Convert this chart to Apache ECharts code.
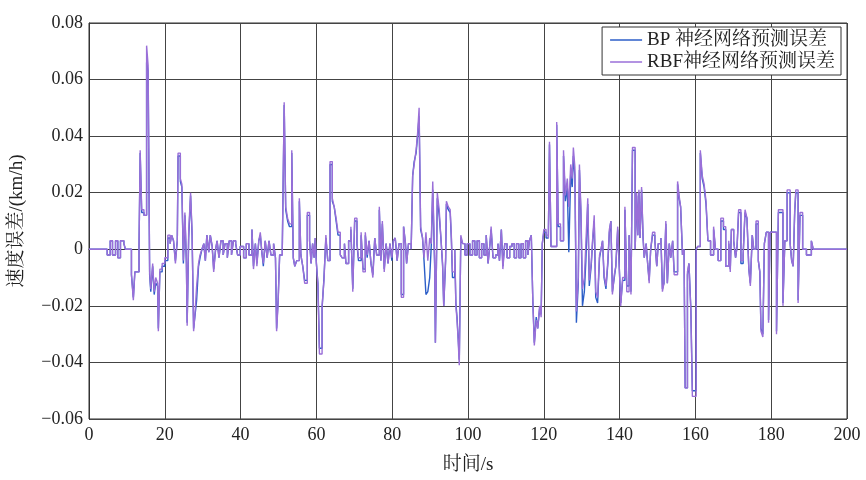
<!DOCTYPE html>
<html>
<head>
<meta charset="utf-8">
<script src="https://cdn.jsdelivr.net/npm/echarts@6/dist/echarts.min.js"></script>
<style>
html,body{margin:0;padding:0;background:#fff;}
#chart{width:866px;height:480px;}
</style>
</head>
<body>
<div id="chart"></div>
<script>
const seriesNames = ['BP 神经网络预测误差', 'RBF神经网络预测误差'];
const xTicks = [0, 20, 40, 60, 80, 100, 120, 140, 160, 180, 200];
const yTicks = [-0.06, -0.04, -0.02, 0, 0.02, 0.04, 0.06, 0.08];

const times = [
0,4.8,5.6,6.2,7.0,7.6,8.3,9.2,9.6,11.2,
11.7,12.1,13.2,13.5,13.9,14.5,15.2,15.6,16.0,16.3,
16.8,17.2,17.6,18.1,18.3,18.7,19.3,20.0,20.8,21.4,
21.8,22.3,22.8,23.3,23.5,24.1,24.5,24.9,25.3,25.7,
25.9,26.3,26.8,27.2,27.6,28.0,28.4,28.9,29.3,29.8,
30.3,30.7,31.1,31.6,32.0,32.5,32.9,33.4,33.8,34.3,
34.8,35.4,35.9,36.5,37.0,37.6,38.1,38.7,39.2,39.9,
40.8,41.5,42.2,43.0,43.4,43.9,44.3,44.8,45.2,45.6,
46.0,46.5,47.0,47.5,48.0,48.7,49.2,49.5,49.9,50.3,
51.0,51.5,51.9,52.4,52.9,53.5,53.9,54.3,54.8,55.5,
55.9,56.4,56.9,57.6,58.2,58.6,59.0,59.4,59.7,60.0,
60.4,60.8,61.5,62.0,62.5,63.0,63.6,64.2,64.7,65.2,
65.7,66.3,66.8,67.4,67.8,68.5,69.1,69.6,70.1,70.7,
71.1,71.8,72.3,72.9,73.4,73.9,74.4,74.9,75.4,75.9,
76.6,77.0,77.4,77.9,78.4,78.9,79.4,79.9,80.3,80.8,
81.3,81.8,82.4,83.0,83.5,83.8,84.3,85.0,85.4,85.8,
86.3,86.7,87.1,87.5,88.0,88.4,88.9,89.4,89.9,90.3,
90.7,91.2,91.4,91.9,92.4,92.9,93.3,93.6,94.1,94.3,
94.8,95.3,95.6,95.9,96.5,96.8,97.1,97.4,97.7,98.1,
98.6,99.2,99.8,100.5,101.2,101.8,102.4,103.0,103.6,104.2,
104.8,105.3,105.8,106.1,106.6,107.3,107.9,108.3,108.8,109.2,
109.7,110.3,111.0,111.6,112.2,112.8,113.4,114.0,114.6,115.2,
115.8,116.2,116.7,117.1,117.5,118.0,118.4,118.9,119.3,119.6,
120.0,120.6,121.2,121.5,121.9,123.4,123.8,124.4,125.2,125.7,
126.2,126.6,127.1,127.5,127.8,128.2,128.6,129.1,129.4,129.8,
130.2,130.7,131.1,131.6,132.0,132.5,132.9,133.3,133.7,134.2,
134.7,135.1,135.5,135.9,136.4,136.9,137.3,137.7,138.1,138.6,
139.0,139.5,139.9,140.3,140.8,141.4,141.9,142.5,143.0,143.4,
144.1,144.5,144.8,145.1,145.4,145.8,146.2,146.5,147.0,147.4,
147.8,148.2,148.7,149.3,149.8,150.2,150.9,151.3,151.7,152.2,
152.6,153.1,153.5,154.0,154.4,155.3,155.7,156.1,156.6,157.0,
157.3,157.9,158.3,158.8,159.2,160.2,160.6,161.3,161.8,162.3,
162.8,163.3,164.0,164.8,165.3,166.0,166.7,167.4,168.0,168.8,
169.2,169.5,170.1,170.6,171.0,171.4,172.0,172.6,173.1,173.6,
174.1,174.5,175.0,175.4,176.0,176.6,177.0,177.3,177.8,178.2,
178.7,179.3,179.7,181.4,181.9,183.1,183.6,184.2,185.0,185.4,
185.8,186.2,186.5,187.1,187.6,188.3,189.3,190.6,191.1,200
];

const rbfErr = [
0,-0.002,0.003,-0.002,0.003,-0.003,0.003,0.002,0,-0.009,
-0.018,-0.008,0.001,0.035,0.014,0.012,0.072,0.065,-0.008,-0.014,
-0.005,-0.015,-0.010,-0.012,-0.029,-0.007,-0.005,-0.003,0.005,0.002,
0.005,0.003,-0.005,0.003,0.034,0.025,0.023,-0.004,0.013,-0.004,
-0.027,0.006,0.020,0.006,-0.029,-0.022,-0.013,-0.005,-0.002,0,
0.002,-0.004,0.005,-0.001,0.005,0.001,-0.008,0,0.003,-0.003,
0.003,-0.002,0.002,-0.003,0.003,-0.002,0.003,0.002,-0.002,0.001,
-0.003,0.002,-0.002,0.007,-0.007,0.002,-0.006,0.003,0.006,-0.001,
-0.005,0.003,-0.003,0.003,-0.002,0.002,-0.003,-0.029,-0.019,-0.002,
0,0.052,0.015,0.011,0.009,0.035,-0.003,-0.006,-0.004,0.018,
-0.002,-0.006,-0.012,0.013,0.003,-0.005,0.002,-0.003,0.004,-0.005,
-0.013,-0.037,-0.020,-0.011,0.005,-0.004,0.031,0.018,0.015,0.011,
0.006,-0.002,-0.003,0.002,-0.005,0.003,0.008,-0.015,0.011,0.002,
-0.003,0.006,-0.008,0.006,-0.002,0.003,-0.005,-0.010,0.004,-0.002,
0.015,-0.004,0.010,-0.008,0.002,-0.005,0.002,-0.003,0.003,0.004,
-0.004,0.002,-0.017,0.008,0.002,-0.005,0.002,0,0.026,0.030,
0.035,0.041,0.050,0.008,0.004,-0.003,0.006,-0.004,0.004,0.002,
0.024,-0.004,-0.033,0.020,0.014,0.003,-0.005,-0.020,-0.003,0.017,
0.015,0.014,0.005,-0.008,0,-0.020,-0.025,-0.032,-0.041,0.005,
0.002,-0.002,0.002,-0.002,0.003,-0.002,0.003,-0.003,0.002,-0.002,
0.005,-0.005,0.002,0.008,-0.003,-0.002,0.002,-0.004,0.007,-0.007,
0.002,-0.003,0.001,0.002,-0.003,0.002,-0.003,0.002,-0.003,0.003,
-0.002,0.003,0.005,-0.018,-0.034,-0.025,-0.028,-0.020,-0.024,0.002,
0.007,0.005,0.004,0.038,0.001,0.045,0.009,0.003,0.035,0.019,
0.025,0.015,0.030,0.025,0.036,0.029,-0.022,-0.010,0.030,0.014,
-0.014,-0.010,0.002,0.018,-0.011,-0.005,0.004,0.012,-0.015,-0.017,
-0.002,0,0.003,-0.009,-0.013,-0.004,0.007,0.010,-0.016,-0.009,
-0.006,0.008,-0.006,-0.020,-0.010,0.015,-0.015,0.005,-0.016,0.036,
0,0.020,0.005,0.021,0.004,0.022,0.004,-0.003,0.002,-0.005,
-0.012,0,0.006,0.003,-0.006,0.002,0.004,-0.015,-0.012,0.010,
-0.012,0.002,-0.003,0.003,-0.009,0.024,0.019,0.015,-0.002,0,
-0.049,-0.008,-0.005,-0.022,-0.052,0,0.001,0.035,0.026,0.023,
0.017,0.003,-0.002,0.008,0,-0.004,0.011,0.008,-0.006,0.003,
-0.008,0.007,0.003,-0.003,0.001,0.014,-0.004,-0.002,0.014,0.011,
-0.007,-0.013,0.005,0,0.010,-0.004,-0.008,-0.029,-0.031,0.002,
0.006,-0.026,0.006,-0.030,0.014,-0.020,0.003,0.021,0.002,-0.004,
-0.006,0.014,0.021,-0.019,0.013,0,-0.002,0.003,0,0
];

const bpErr = [
0,-0.002,0.003,-0.002,0.003,-0.003,0.003,0.002,0,-0.009,
-0.017,-0.008,0.001,0.034,0.013,0.012,0.066,0.063,-0.009,-0.015,
-0.006,-0.016,-0.012,-0.013,-0.028,-0.008,-0.006,-0.004,0.004,0.002,
0.005,0.003,-0.004,0.003,0.033,0.024,0.022,-0.005,0.012,-0.005,
-0.026,0.004,0.019,0.005,-0.028,-0.023,-0.018,-0.006,-0.003,0,
0.002,-0.004,0.005,-0.001,0.005,0.001,-0.007,0,0.003,-0.003,
0.003,-0.002,0.002,-0.003,0.003,-0.002,0.003,0.002,-0.002,0.001,
-0.003,0.002,-0.002,0.007,-0.006,0.002,-0.005,0.003,0.005,-0.001,
-0.006,0.003,-0.003,0.003,-0.002,0.002,-0.003,-0.028,-0.018,-0.002,
0,0.051,0.014,0.010,0.008,0.034,-0.003,-0.006,-0.004,0.017,
-0.002,-0.006,-0.011,0.012,0.003,-0.005,0.002,-0.003,0.004,-0.005,
-0.012,-0.035,-0.021,-0.010,0.004,-0.004,0.030,0.017,0.015,0.010,
0.005,-0.002,-0.003,0.002,-0.005,0.003,0.007,-0.014,0.010,0.002,
-0.004,0.005,-0.007,0.005,-0.003,0.003,-0.005,-0.009,0.004,-0.002,
0.014,-0.004,0.009,-0.007,0.002,-0.005,0.002,-0.004,0.003,0.004,
-0.004,0.002,-0.016,0.008,0.002,-0.005,0.002,0,0.026,0.031,
0.034,0.040,0.047,0.007,0.004,-0.004,-0.016,-0.015,-0.010,0.001,
0.021,-0.006,-0.033,0.018,0.012,0.003,-0.006,-0.020,-0.004,0.016,
0.014,0.013,0.004,-0.010,0,-0.019,-0.024,-0.031,-0.039,0.004,
0.002,-0.002,0.002,-0.002,0.003,-0.002,0.003,-0.003,0.002,-0.002,
0.005,-0.005,0.002,0.007,-0.003,-0.002,0.002,-0.004,0.007,-0.006,
0.002,-0.003,0.001,0.002,-0.003,0.002,-0.003,0.002,-0.003,0.003,
-0.002,0.003,0.005,-0.018,-0.033,-0.024,-0.028,-0.021,-0.023,0.002,
0.006,0.004,0.004,0.037,0.001,0.044,0.008,0.003,0.033,0.017,
0.022,-0.001,0.027,0.022,0.033,0.026,-0.026,-0.012,0.028,0.012,
-0.020,-0.015,-0.004,0.016,-0.013,-0.006,0.003,0.010,-0.017,-0.019,
-0.003,0,0.003,-0.010,-0.014,-0.005,0.006,0.010,-0.015,-0.010,
-0.006,0.007,-0.006,-0.019,-0.011,0.014,-0.013,0.005,-0.015,0.035,
0,0.019,0.005,0.020,0.004,0.021,0.004,-0.003,0.002,-0.005,
-0.011,0,0.005,0.003,-0.006,0.002,0.004,-0.014,-0.012,0.009,
-0.012,0.002,-0.003,0.003,-0.008,0.023,0.018,0.015,-0.002,0,
-0.049,-0.009,-0.005,-0.021,-0.050,0,0.001,0.034,0.025,0.022,
0.016,0.003,-0.002,0.007,0,-0.004,0.010,0.007,-0.006,0.002,
-0.007,0.007,0.003,-0.003,0.001,0.013,-0.005,-0.002,0.013,0.011,
-0.007,-0.012,0.005,0,0.009,-0.004,-0.008,-0.028,-0.030,0.002,
0.006,-0.025,0.006,-0.029,0.013,-0.019,0.003,0.020,0.002,-0.004,
-0.006,0.013,0.020,-0.018,0.012,0,-0.002,0.003,0,0
];

const serifFont = "'Liberation Serif','Times New Roman','Noto Serif CJK SC','Noto Sans CJK SC',serif";
const chart = echarts.init(document.getElementById('chart'), null, {renderer: 'canvas'});

function fmtY(v) {
  if (Math.abs(v) < 1e-9) return '0';
  const s = v.toFixed(2);
  return s.replace('-', '\u2212');
}

chart.setOption({
  animation: false,
  backgroundColor: '#ffffff',
  grid: {
    left: 87, right: 19, top: 23, bottom: 53,
    show: true, borderColor: '#333', borderWidth: 1, backgroundColor: 'transparent'
  },
  legend: {
    orient: 'vertical',
    right: 25,
    top: 27,
    align: 'left',
    backgroundColor: '#fff',
    borderColor: '#333',
    borderWidth: 1,
    borderRadius: 0,
    padding: [3, 6, 3, 8],
    itemGap: 2,
    itemWidth: 32,
    itemHeight: 1.5,
    icon: 'rect',
    textStyle: {fontFamily: serifFont, fontSize: 19, color: '#222', lineHeight: 20},
    data: seriesNames
  },
  xAxis: {
    type: 'value',
    min: xTicks[0], max: xTicks[xTicks.length - 1], interval: 20,
    name: '时间/s',
    nameLocation: 'middle',
    nameGap: 37,
    nameTextStyle: {fontFamily: serifFont, fontSize: 19, color: '#222'},
    axisLine: {show: true, lineStyle: {color: '#333', width: 1}},
    axisTick: {show: false},
    axisLabel: {fontFamily: serifFont, fontSize: 18, color: '#222', margin: 7},
    splitLine: {show: true, lineStyle: {color: '#444', width: 1}}
  },
  yAxis: {
    type: 'value',
    min: yTicks[0], max: yTicks[yTicks.length - 1], interval: 0.02,
    name: '速度误差/(km/h)',
    nameLocation: 'middle',
    nameGap: 62,
    nameTextStyle: {fontFamily: serifFont, fontSize: 19, color: '#222'},
    axisLine: {show: true, lineStyle: {color: '#333', width: 1}},
    axisTick: {show: false},
    axisLabel: {fontFamily: serifFont, fontSize: 18, color: '#222', margin: 6, formatter: fmtY},
    splitLine: {show: true, lineStyle: {color: '#444', width: 1}}
  },
  series: [
    {
      name: seriesNames[0],
      type: 'line',
      step: 'end',
      symbol: 'none',
      data: times.map((t, i) => [t, bpErr[i]]),
      lineStyle: {color: '#2c5ec8', width: 1.4},
      itemStyle: {color: '#2c5ec8'},
      z: 2
    },
    {
      name: seriesNames[1],
      type: 'line',
      step: 'end',
      symbol: 'none',
      data: times.map((t, i) => [t, rbfErr[i]]),
      lineStyle: {color: '#9a6fd8', width: 1.4},
      itemStyle: {color: '#9a6fd8'},
      z: 3
    }
  ]
});
if (times.length !== rbfErr.length || times.length !== bpErr.length) {
  console.error('length mismatch', times.length, rbfErr.length, bpErr.length);
}
</script>
</body>
</html>
